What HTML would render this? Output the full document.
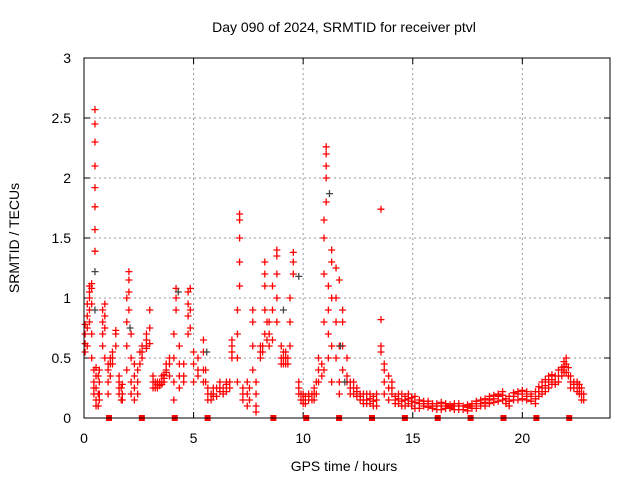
<!DOCTYPE html>
<html><head><meta charset="utf-8"><style>
body{margin:0;background:#fff;}
svg{display:block;font-family:"Liberation Sans",Arial,sans-serif;}
</style></head><body>
<svg id="chart" width="640" height="480">
<text x="344" y="32" text-anchor="middle" font-size="14">Day 090 of 2024, SRMTID for receiver ptvl</text>
<text x="344" y="471" text-anchor="middle" font-size="14">GPS time / hours</text>
<text x="19" y="238" text-anchor="middle" font-size="14" transform="rotate(-90 19 238)">SRMTID / TECUs</text>
<g id="grid"></g>
<g id="ticks"></g>
<g id="marks"></g>
<rect x="84" y="58" width="526" height="360" fill="none" stroke="#000"/>
</svg>
<script>
const xTicks=[0,5,10,15,20];
const yTicks=[0,0.5,1,1.5,2,2.5,3];
const yTickLabels=["0","0.5","1","1.5","2","2.5","3"];
const sampleTimes=[0.05,0.15,0.25,0.35,0.45,0.5,0.55,0.7,0.85,0.95,1.1,1.3,1.45,1.6,1.75,1.95,2.05,2.15,2.3,2.45,2.65,2.85,3.0,3.15,3.35,3.55,3.75,3.9,4.1,4.2,4.35,4.55,4.75,4.85,5.0,5.2,5.45,5.65,5.9,6.2,6.5,6.75,7.0,7.1,7.25,7.45,7.7,7.85,8.05,8.25,8.45,8.6,8.8,9.0,9.2,9.4,9.55,9.8,10.0,10.25,10.5,10.7,10.95,11.05,11.15,11.3,11.5,11.65,11.8,12.0,12.3,12.6,12.9,13.2,13.55,13.7,13.9,14.2,14.5,14.8,15.1,15.5,15.9,16.3,16.7,17.1,17.5,17.9,18.3,18.7,19.1,19.4,19.8,20.2,20.6,20.9,21.2,21.5,21.8,22.0,22.2,22.5,22.7,
12.15,12.45,12.75,13.05,13.35,14.05,14.35,14.65,14.95,15.3,15.7,16.1,16.5,16.9,17.3,17.7,18.1,18.5,18.9,19.25,19.6,20.0,20.4,20.75,21.05,21.35,21.65,21.9,22.1,22.35,22.6,22.8,
0.65,1.2,1.7,2.55,3.25,3.45,3.65,5.55,5.8,6.05,6.35,6.65,7.55,8.15,8.35,9.1,9.3,9.9,10.1,10.4,10.6,10.85];
const sampleValues=[[.55,.62,.7,.78],[.6,.75,.85,.95],[.8,.9,1.0,1.05,1.1],[1.12,1.08,.95,.7,.5],[.4,.3,.25,.2],[2.57,2.45,2.3,2.1,1.92,1.76,1.57,1.39],[.35,.25,.15,.1,.42],[.2,.3,.4,.15],[.6,.7,.8,.9],[.95,.85,.75,.5],[.3,.4,.2,.45],[.45,.5,.55],[.6,.7,.73],[.3,.25,.2,.35],[.2,.15,.28],[.4,.6,.8,1.0],[1.22,1.15,1.05,.9],[.7,.5,.3,.2],[.15,.25,.35,.45],[.4,.3,.2],[.55,.5,.6],[.6,.65,.7,.58],[.9,.75,.62],[.35,.3,.25],[.28,.25,.3],[.3,.35,.28],[.4,.45,.38],[.45,.5,.35],[.15,.3,.5,.7],[.9,1.0,1.08],[.6,.45,.35,.25],[.35,.45,.3],[.7,.85,.95,1.05],[1.08,.9,.75],[.55,.45,.3],[.35,.4,.5],[.4,.55,.65,.3],[.25,.2,.15],[.2,.25,.18],[.22,.3,.25],[.28,.22,.3],[.5,.55,.6,.65],[.3,.5,.7,.9],[1.1,1.3,1.5,1.7,1.65],[.25,.2,.15],[.1,.2,.3],[.4,.6,.8,.9],[.3,.2,.1,.05],[.5,.55,.6],[.7,.9,1.1,1.2,1.3],[.8,.7,.6],[.65,.9,1.1],[1.4,1.35,1.2,1.0,.8],[.6,.5,.45],[.5,.55,.45],[.6,.8,1.0],[1.2,1.38,1.3],[.25,.2,.3],[.15,.2,.12],[.2,.15,.18],[.15,.2,.25],[.3,.4,.5],[.4,.8,1.2,1.5,1.65],[2.26,2.2,2.1,2.0,1.8],[1.1,.9,.7,.5],[.3,.6,1.0,1.3,1.4],[1.25,1.0,.8,.5],[.2,.3,.6,1.15],[.9,.8,.6,.4],[.5,.3,.35],[.3,.25,.2],[.2,.18,.15],[.12,.15,.2],[.1,.18,.14],[1.74,.82,.6,.55],[.2,.3,.4,.45],[.25,.15,.35],[.12,.18,.15],[.1,.14,.2],[.16,.2,.12],[.08,.13,.18],[.1,.14,.12],[.08,.12,.1],[.07,.1,.13],[.08,.11,.09],[.07,.1,.12],[.06,.09,.11],[.08,.12,.14],[.1,.13,.16],[.13,.16,.19],[.15,.19,.22],[.1,.14,.18],[.15,.2,.22],[.18,.22,.15],[.12,.16,.22],[.2,.25,.3],[.25,.3,.35],[.3,.35,.28],[.35,.4,.42],[.45,.5,.38],[.3,.25,.35],[.22,.28,.3],[.2,.25,.15],
[.25,.3,.2],[.22,.18,.25],[.15,.2,.12],[.12,.16,.2],[.1,.15,.2],[.2,.25,.3],[.12,.16,.2],[.1,.15,.18],[.1,.14,.17],[.08,.12,.15],[.09,.12,.14],[.07,.1,.12],[.08,.1,.12],[.07,.1,.12],[.07,.1],[.08,.1,.12],[.1,.12,.15],[.12,.15,.18],[.14,.18,.2],[.12,.16],[.15,.18,.21],[.16,.2,.23],[.14,.18,.2],[.18,.22,.26],[.22,.27,.32],[.28,.32,.36],[.3,.35,.4],[.38,.43,.47],[.35,.42],[.25,.3,.28],[.2,.25,.28],[.15,.2],
[.1,.2,.35],[.35,.45,.5],[.15,.25],[.45,.55],[.25,.3],[.27,.3],[.3,.33,.36],[.3,.4],[.2,.15],[.18,.25],[.25,.2],[.25,.3],[.15,.25],[.55,.6],[.65,.8],[.45,.5,.55],[.5,.45],[.15,.2],[.12,.18],[.15,.2],[.2,.3],[.35,.45]];
const grayTimes=[0.5,0.5,2.1,4.3,5.6,9.1,9.8,11.2,11.7,11.9];
const grayValues=[1.22,0.9,0.75,1.05,0.55,0.9,1.18,1.87,0.6,0.3];
const markerTimes=[1.14,2.64,4.14,5.64,8.64,10.14,11.64,13.14,14.64,16.14,17.64,19.14,20.64,22.14];

const X0=84,X1=610,Y0=418,Y1=58,XMAX=24,YMAX=3;
function sx(t){return X0+t/XMAX*(X1-X0);}
function sy(v){return Y0-v/YMAX*(Y0-Y1);}
const NS="http://www.w3.org/2000/svg";
function mk(tag,attrs,parent){const e=document.createElementNS(NS,tag);for(const k in attrs)e.setAttribute(k,attrs[k]);parent.appendChild(e);return e;}
const grid=document.getElementById('grid'),ticks=document.getElementById('ticks'),marks=document.getElementById('marks');
xTicks.forEach(t=>{
  const x=sx(t);
  if(t>0){const g=mk('line',{x1:x,y1:Y1,x2:x,y2:Y0,stroke:'#999','stroke-dasharray':'2,3'},grid);
  
  }
  mk('line',{x1:x,y1:Y0,x2:x,y2:Y0-6,stroke:'#000'},ticks);
  mk('line',{x1:x,y1:Y1,x2:x,y2:Y1+6,stroke:'#000'},ticks);
  const l=mk('text',{x:x,y:Y0+25,'text-anchor':'middle','font-size':'14'},ticks);
  l.textContent=String(t);
  
  
});
yTicks.forEach((v,i)=>{
  const y=sy(v);
  if(v>0&&v<YMAX){const g=mk('line',{x1:X0,y1:y,x2:X1,y2:y,stroke:'#999','stroke-dasharray':'2,3'},grid);
  
  }
  mk('line',{x1:X0,y1:y,x2:X0+6,y2:y,stroke:'#000'},ticks);
  mk('line',{x1:X1,y1:y,x2:X1-6,y2:y,stroke:'#000'},ticks);
  const l=mk('text',{x:X0-13,y:y+5,'text-anchor':'end','font-size':'14'},ticks);
  l.textContent=yTickLabels[i];
  
  
});
function plus(x,y,c){
  return mk('path',{d:`M${x-3.5},${y}H${x+3.5}M${x},${y-3.5}V${y+3.5}`,stroke:c,'stroke-width':'1.3',fill:'none'},marks);
}
sampleTimes.forEach((t,i)=>{
  sampleValues[i].forEach(v=>{
    const p=plus(sx(t),sy(v),'#f00');
    
    
  });
});
grayTimes.forEach((t,i)=>{
  const p=plus(sx(t),sy(grayValues[i]),'#444');
  
  
});
markerTimes.forEach(t=>{
  const r=mk('rect',{x:sx(t)-3,y:Y0-3,width:6,height:6,fill:'#f00'},marks);
  
  
});
</script>
</body></html>
